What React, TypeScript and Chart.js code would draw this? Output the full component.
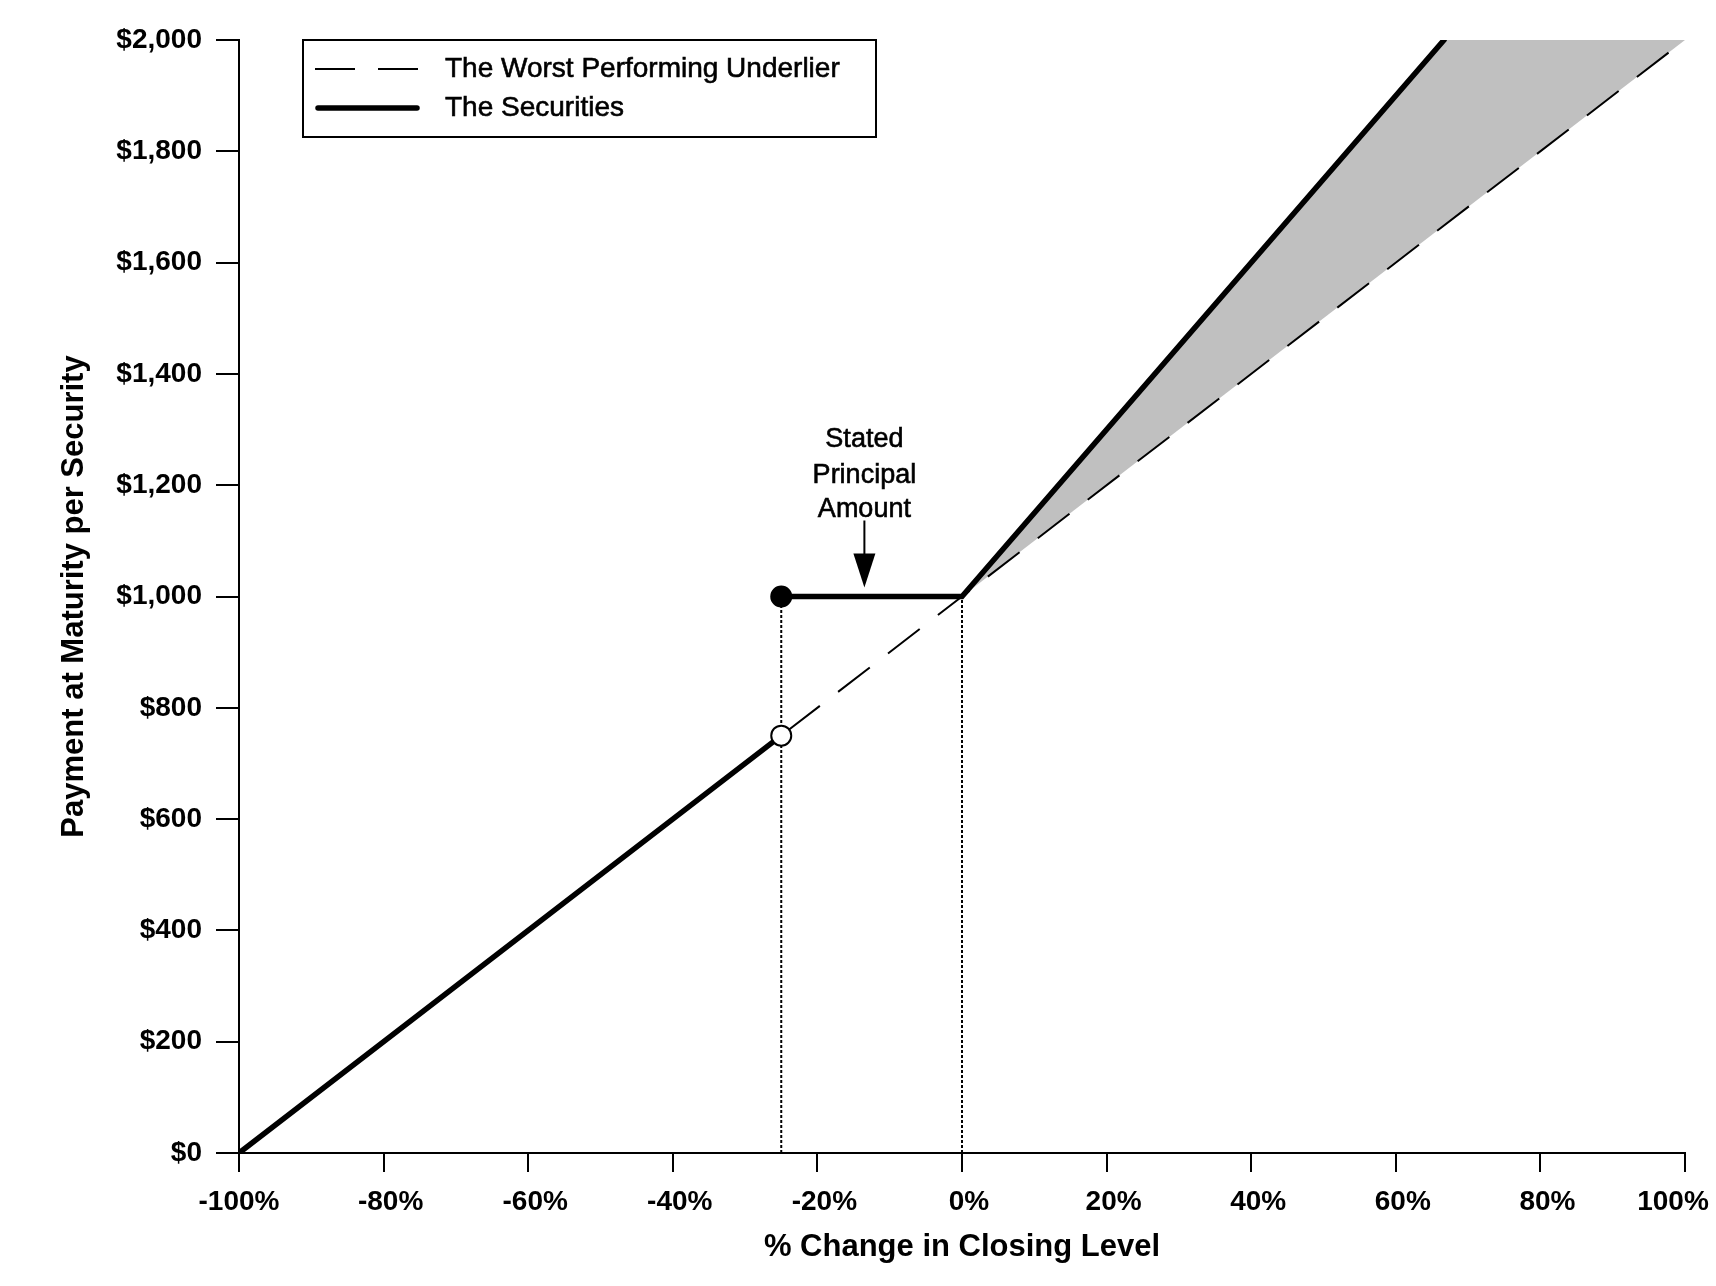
import React, { useEffect, useRef } from 'react';
import { Chart, registerables } from 'chart.js';

Chart.register(...registerables);

// ---------- data ----------
const xTickLabels = ['-100%', '-80%', '-60%', '-40%', '-20%', '0%', '20%', '40%', '60%', '80%', '100%'];
const yTickLabels = ['$0', '$200', '$400', '$600', '$800', '$1,000', '$1,200', '$1,400', '$1,600', '$1,800', '$2,000'];
const seriesNames = ['The Worst Performing Underlier', 'The Securities'];

// The Worst Performing Underlier (dashed)
const underlierX = [-100, 0, 100];
const underlierY = [0, 1000, 2000];

// The Securities (solid), downside below the threshold
const securitiesLowX = [-100, -25];
const securitiesLowY = [0, 750];
// The Securities (solid), at / above the threshold
const securitiesHighX = [-25, 0, 66.67];
const securitiesHighY = [1000, 1000, 2000];

// upper edge of the shaded upside region (filled down to the underlier line)
const shadeX = [0, 66.67, 100];
const shadeY = [1000, 2000, 2000];

// dotted reference verticals
const guideX = [-25, 0];
const guideLowY = 0;
const guideHighY = 1000;

// markers
const filledDotX = [-25];
const filledDotY = [1000];
const openDotX = [-25];
const openDotY = [750];

// annotation
const annotationLines = ['Stated', 'Principal', 'Amount'];
const annotationX = -13.5;
const annotationY = 1000;

const FONT = "'Liberation Sans', Arial, Helvetica, sans-serif";

const pts = (xs: number[], ys: number[]) => xs.map((x, i) => ({ x, y: ys[i] }));

const labelNudge = {
  id: 'labelNudge',
  beforeDraw(chart: any) {
    const s = chart.scales.x;
    const items = s.getLabelItems();
    items.forEach((it: any, i: number) => {
      if (it._nudged) return;
      it._nudged = true;
      const dx = i === 0 ? 0 : i === items.length - 1 ? -12 : 7;
      it.options.translation[0] += dx;
    });
  },
};

const heavyText = (ctx: CanvasRenderingContext2D, t: string, x: number, y: number) => {
  ctx.fillText(t, x, y);
  ctx.lineWidth = 0.6;
  ctx.strokeText(t, x, y);
};

const overlay = {
  id: 'overlay',
  afterDraw(chart: any) {
    const ctx = chart.ctx as CanvasRenderingContext2D;
    const xs = chart.scales.x;
    const ys = chart.scales.y;
    ctx.save();
    // legend box
    ctx.strokeStyle = '#000';
    ctx.lineWidth = 2;
    ctx.setLineDash([]);
    ctx.strokeRect(303, 40, 573, 97);
    // dashed sample
    ctx.beginPath();
    ctx.setLineDash([40, 23]);
    ctx.lineWidth = 2;
    ctx.moveTo(315, 69);
    ctx.lineTo(418, 69);
    ctx.stroke();
    // solid sample
    ctx.beginPath();
    ctx.setLineDash([]);
    ctx.lineWidth = 5.5;
    ctx.lineCap = 'round';
    ctx.moveTo(318, 108);
    ctx.lineTo(417, 108);
    ctx.stroke();
    ctx.lineCap = 'butt';
    ctx.fillStyle = '#000';
    ctx.font = `28px ${FONT}`;
    ctx.textAlign = 'left';
    ctx.textBaseline = 'middle';
    heavyText(ctx, seriesNames[0], 445, 69.5);
    heavyText(ctx, seriesNames[1], 445, 108.5);

    // annotation
    const ax = xs.getPixelForValue(annotationX);
    const ay = ys.getPixelForValue(annotationY);
    ctx.textAlign = 'center';
    ctx.textBaseline = 'alphabetic';
    ctx.font = `27px ${FONT}`;
    heavyText(ctx, annotationLines[0], ax, ay - 150);
    heavyText(ctx, annotationLines[1], ax, ay - 114);
    heavyText(ctx, annotationLines[2], ax, ay - 80);
    // arrow
    ctx.beginPath();
    ctx.lineWidth = 2;
    ctx.moveTo(ax, ay - 76);
    ctx.lineTo(ax, ay - 42);
    ctx.stroke();
    ctx.beginPath();
    ctx.moveTo(ax - 11, ay - 43);
    ctx.lineTo(ax + 11, ay - 43);
    ctx.lineTo(ax, ay - 9);
    ctx.closePath();
    ctx.fill();
    ctx.restore();
  },
};

export default function App() {
  const ref = useRef<HTMLCanvasElement>(null);
  useEffect(() => {
    const canvas = ref.current!;
    Chart.defaults.color = '#000';
    const lineBase = { pointRadius: 0, tension: 0, fill: false, showLine: true };
    const chart = new Chart(canvas, {
      type: 'line',
      data: {
        datasets: [
          {
            ...lineBase,
            label: 'filled',
            data: pts(filledDotX, filledDotY),
            showLine: false,
            pointRadius: 10,
            pointBackgroundColor: '#000',
            pointBorderColor: '#000',
            pointBorderWidth: 2,
            order: 0,
          },
          {
            ...lineBase,
            label: 'open',
            data: pts(openDotX, openDotY),
            showLine: false,
            pointRadius: 10,
            pointBackgroundColor: '#fff',
            pointBorderColor: '#000',
            pointBorderWidth: 2,
            order: 0,
          },
          {
            ...lineBase,
            label: seriesNames[1],
            data: pts(securitiesLowX, securitiesLowY),
            borderColor: '#000',
            borderWidth: 5.5,
            borderCapStyle: 'round',
            order: 1,
          },
          {
            ...lineBase,
            label: seriesNames[1] + ' upper',
            data: pts(securitiesHighX, securitiesHighY),
            borderColor: '#000',
            borderWidth: 5.5,
            borderCapStyle: 'round',
            borderJoinStyle: 'miter',
            order: 1,
          },
          {
            ...lineBase,
            label: seriesNames[0],
            data: pts(underlierX, underlierY),
            borderColor: '#000',
            borderWidth: 2,
            borderDash: [40, 23],
            order: 2,
          },
          {
            ...lineBase,
            label: 'guide1',
            data: pts([guideX[0], guideX[0]], [guideLowY, guideHighY]),
            borderColor: '#000',
            borderWidth: 2,
            borderDash: [3, 2],
            order: 3,
          },
          {
            ...lineBase,
            label: 'guide2',
            data: pts([guideX[1], guideX[1]], [guideLowY, guideHighY]),
            borderColor: '#000',
            borderWidth: 2,
            borderDash: [3, 2],
            order: 3,
          },
          {
            ...lineBase,
            label: 'shade',
            data: pts(shadeX, shadeY),
            borderWidth: 0,
            borderColor: 'rgba(0,0,0,0)',
            backgroundColor: '#C0C0C0',
            fill: { target: 4 },
            order: 5,
          },
        ] as any,
      },
      options: {
        responsive: false,
        devicePixelRatio: 1,
        animation: false,
        events: [],
        layout: { padding: { top: 40, right: 31, bottom: 0, left: 0 } },
        plugins: {
          legend: { display: false },
          tooltip: { enabled: false },
          filler: { propagate: false },
        },
        scales: {
          x: {
            type: 'linear',
            min: -100,
            max: 100,
            afterFit(scale: any) {
              scale.height = 133;
              scale.paddingLeft = 0;
              scale.paddingRight = 0;
            },
            afterBuildTicks(scale: any) {
              scale.ticks = xTickLabels.map((_, i) => ({ value: -100 + i * 20 }));
            },
            ticks: {
              callback: (_v: any, i: number) => xTickLabels[i],
              font: { family: FONT, size: 28, weight: 'bold' },
              color: '#000',
              padding: 13,
              maxRotation: 0,
              autoSkip: false,
            },
            grid: {
              display: true,
              drawOnChartArea: false,
              drawTicks: true,
              tickLength: 19,
              color: '#000',
              lineWidth: 2,
            },
            border: { display: true, color: '#000', width: 2 },
            title: {
              display: true,
              text: '% Change in Closing Level',
              font: { family: FONT, size: 31, weight: 'bold' },
              color: '#000',
              padding: { top: 0, bottom: 20 },
            },
          },
          y: {
            type: 'linear',
            min: 0,
            max: 2000,
            afterFit(scale: any) {
              scale.width = 239;
              scale.paddingTop = 0;
              scale.paddingBottom = 0;
            },
            afterBuildTicks(scale: any) {
              scale.ticks = yTickLabels.map((_, i) => ({ value: i * 200 }));
            },
            ticks: {
              callback: (_v: any, i: number) => yTickLabels[i],
              font: { family: FONT, size: 28, weight: 'bold' },
              color: '#000',
              padding: 14,
              autoSkip: false,
            },
            grid: {
              display: true,
              drawOnChartArea: false,
              drawTicks: true,
              tickLength: 23,
              color: '#000',
              lineWidth: 2,
            },
            border: { display: true, color: '#000', width: 2 },
            title: {
              display: true,
              text: 'Payment at Maturity per Security',
              font: { family: FONT, size: 31, weight: 'bold' },
              color: '#000',
              padding: { top: 56, bottom: 0 },
            },
          },
        },
      } as any,
      plugins: [labelNudge, overlay],
    });
    return () => chart.destroy();
  }, []);
  return (
    <div style={{ position: 'fixed', left: 0, top: 0, width: 1716, height: 1286, background: '#fff' }}>
      <canvas ref={ref} width={1716} height={1286} style={{ width: 1716, height: 1286, display: 'block' }} />
    </div>
  );
}
